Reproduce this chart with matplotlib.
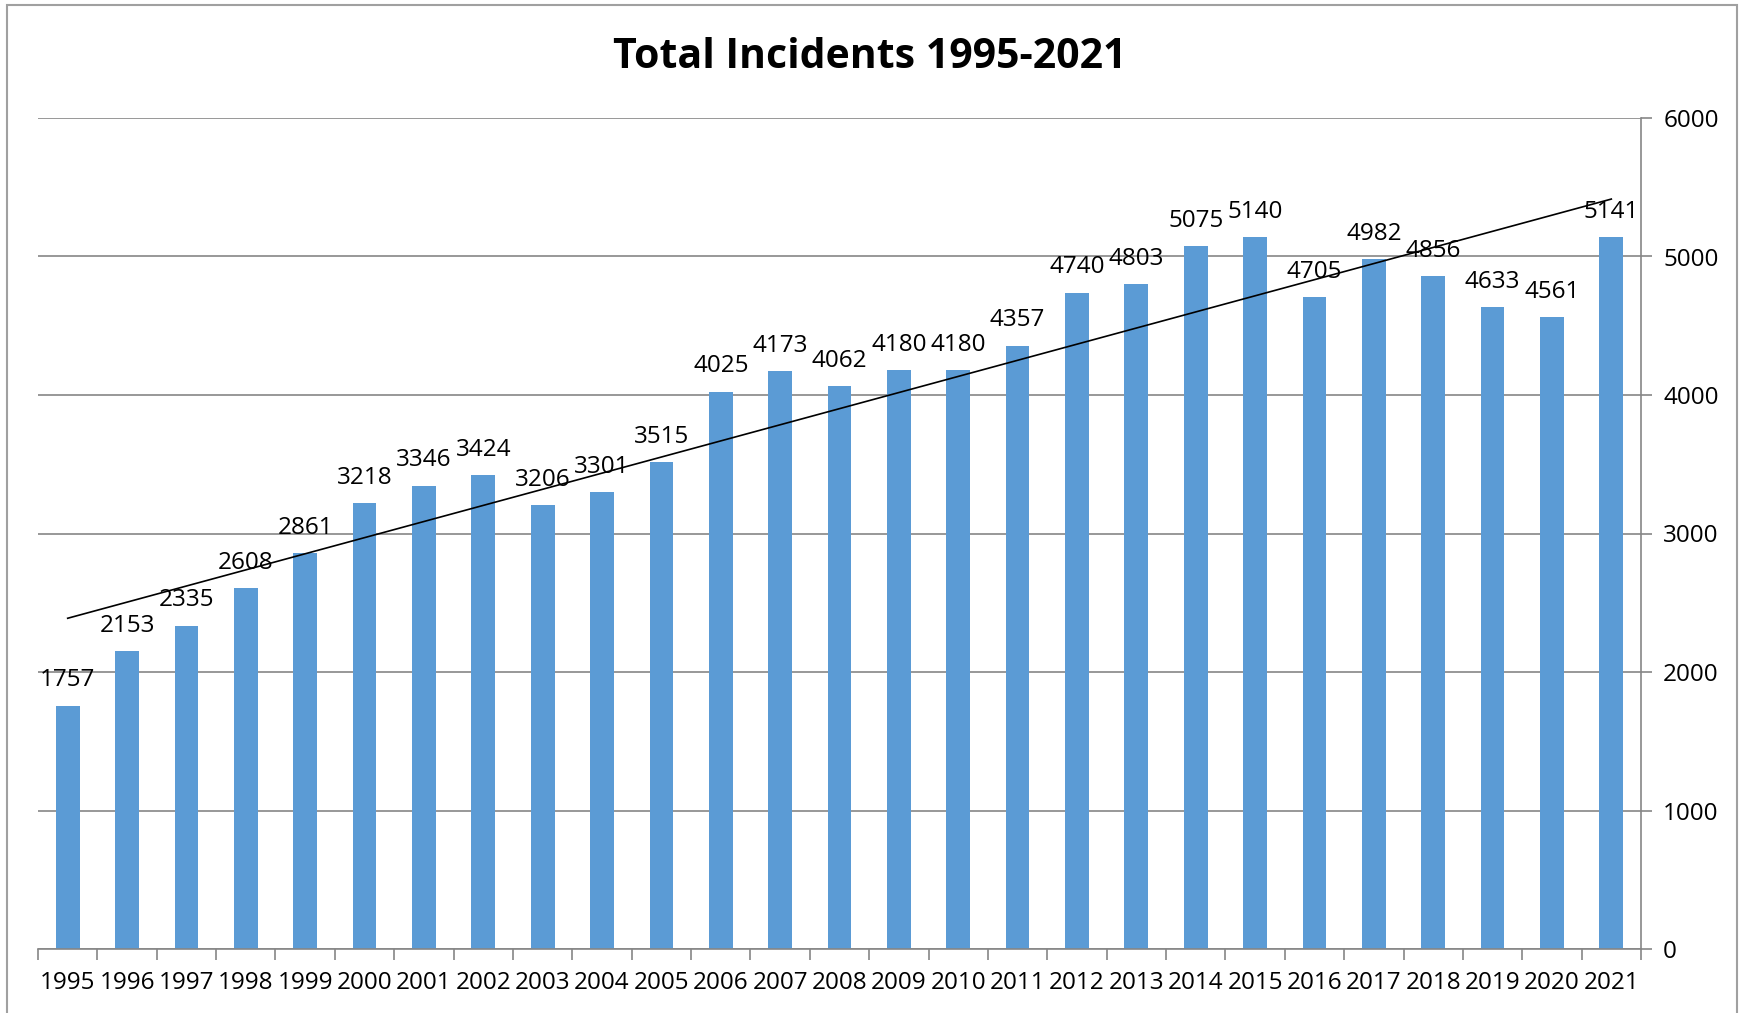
import numpy as np
import matplotlib.pyplot as plt

years = ['1995', '1996', '1997', '1998', '1999', '2000', '2001', '2002', '2003',
         '2004', '2005', '2006', '2007', '2008', '2009', '2010', '2011', '2012',
         '2013', '2014', '2015', '2016', '2017', '2018', '2019', '2020', '2021']
incidents = [1757, 2153, 2335, 2608, 2861, 3218, 3346, 3424, 3206,
             3301, 3515, 4025, 4173, 4062, 4180, 4180, 4357, 4740,
             4803, 5075, 5140, 4705, 4982, 4856, 4633, 4561, 5141]
y_ticks = [0, 1000, 2000, 3000, 4000, 5000, 6000]

plt.rcParams['font.family'] = ['Open Sans', 'DejaVu Sans']

fig = plt.figure(figsize=(17.39, 10.13), dpi=100)
ax = fig.add_axes([38 / 1739, 1 - 949 / 1013, (1641 - 38) / 1739, (949 - 118) / 1013])

x = np.arange(len(years))
ax.bar(x, incidents, width=0.4, color='#5B9BD5', zorder=2)

for xi, v in zip(x, incidents):
    ax.text(xi, v + 95, str(v), ha='center', va='bottom', fontsize=17.5, zorder=4)

# linear trend line
coef = np.polyfit(x, incidents, 1)
ax.plot([x[0], x[-1]], np.polyval(coef, [x[0], x[-1]]), color='black', lw=1.2, zorder=3)

ax.set_xlim(-0.5, len(years) - 0.5)
ax.set_ylim(0, 6000)
ax.set_yticks(y_ticks)
ax.yaxis.tick_right()
ax.tick_params(axis='y', length=8, width=1.2, color='#868686', labelsize=17.5, pad=8)
ax.grid(axis='y', color='#868686', lw=1.2, zorder=0)

ax.set_xticks(x)
ax.set_xticklabels(years, fontsize=17.5)
ax.tick_params(axis='x', length=0, pad=16)
ax.set_xticks(np.arange(-0.5, len(years)), minor=True)
ax.tick_params(axis='x', which='minor', length=8, width=1.2, color='#868686')

for s in ['top', 'left']:
    ax.spines[s].set_visible(False)
for s in ['bottom', 'right']:
    ax.spines[s].set_color('#868686')
    ax.spines[s].set_linewidth(1.2)

fig.text(0.5, 1 - 58 / 1013, 'Total Incidents 1995-2021', ha='center', va='center',
         fontsize=29.5, fontweight='bold')

border = plt.Rectangle((7 / 1739, -0.01), (1737 - 7) / 1739, 1 - 5 / 1013 + 0.01,
                       transform=fig.transFigure, fill=False, edgecolor='#A0A0A0', lw=1.5)
fig.patches.append(border)

fig.savefig('out.png', dpi=100)
